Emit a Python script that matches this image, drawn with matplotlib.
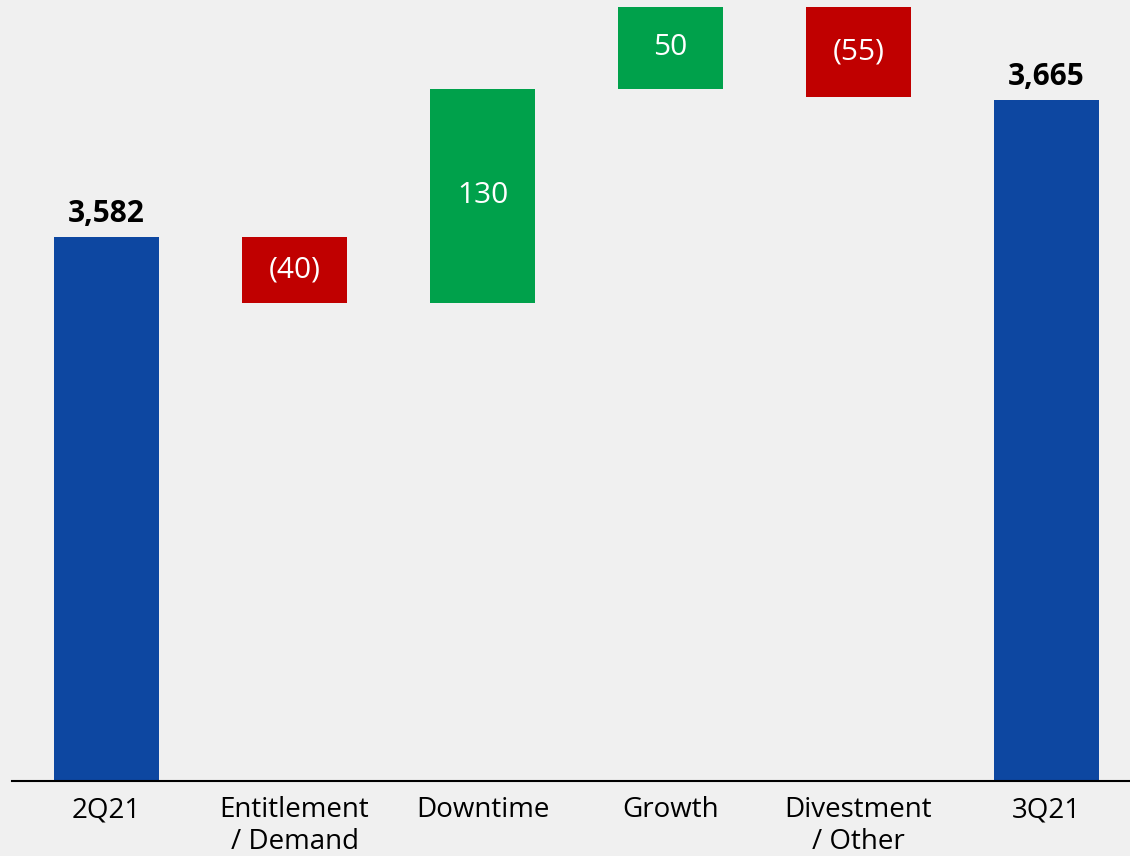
import matplotlib.pyplot as plt

plt.rcParams['font.family'] = ['Open Sans', 'DejaVu Sans']

categories = ['2Q21', 'Entitlement\n/ Demand', 'Downtime', 'Growth', 'Divestment\n/ Other', '3Q21']
start_value = 3582
changes = [-40, 130, 50, -55]
end_value = 3665

blue = '#0D47A1'
red = '#C00000'
green = '#00A14B'
bg = '#F0F0F0'

fig = plt.figure(figsize=(11.3, 8.56), dpi=100, facecolor=bg)
ax = fig.add_axes([12 / 1130, (856 - 781) / 856, 1118 / 1130, 781 / 856])
ax.set_facecolor(bg)

width = 0.558
x = list(range(len(categories)))

# totals
ax.bar(x[0], start_value - 3000, bottom=3000, width=width, color=blue)
ax.bar(x[-1], end_value - 3000, bottom=3000, width=width, color=blue)
ax.text(x[0], start_value + 5, f'{start_value:,}', ha='center', va='bottom',
        fontsize=21.5, fontweight='bold', color='black')
ax.text(x[-1], end_value + 5, f'{end_value:,}', ha='center', va='bottom',
        fontsize=21.5, fontweight='bold', color='black')

# steps
level = start_value
for i, c in enumerate(changes, start=1):
    col = green if c > 0 else red
    ax.bar(x[i], c, bottom=level, width=width, color=col)
    label = f'{c}' if c > 0 else f'({-c})'
    ax.text(x[i], level + c / 2, label, ha='center', va='center',
            fontsize=21.5, color='white')
    level += c

ax.set_xlim(-0.503, 5.444)
ax.set_ylim(3251, 3726)
ax.set_xticks(x)
ax.set_xticklabels(categories, fontsize=20, linespacing=1.2)
ax.tick_params(axis='x', length=0, pad=11)
ax.set_yticks([])
for s in ['top', 'right', 'left']:
    ax.spines[s].set_visible(False)
ax.spines['bottom'].set_color('black')
ax.spines['bottom'].set_linewidth(1.5)

fig.savefig('out.png', dpi=100, facecolor=bg)
